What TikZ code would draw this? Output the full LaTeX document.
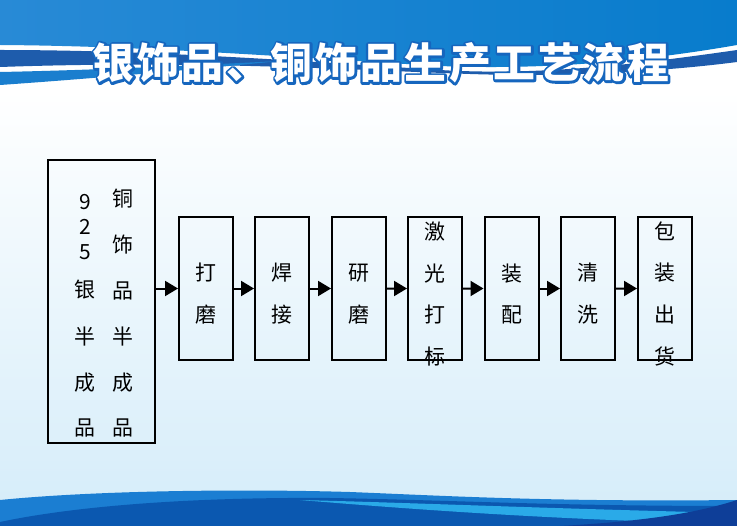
\documentclass[tikz,border=0pt]{standalone}
\usepackage{fontspec}
\setmainfont{Noto Sans CJK SC}
\usetikzlibrary{arrows.meta}

\definecolor{skyback}{RGB}{212,236,249}
\definecolor{bandleft}{RGB}{40,138,214}
\definecolor{bandmid}{RGB}{92,196,240}
\definecolor{bandright}{RGB}{8,124,204}
\definecolor{stripedark}{RGB}{30,92,172}
\definecolor{stripelow}{RGB}{26,126,206}
\definecolor{wavebase}{RGB}{27,126,210}
\definecolor{wavedark}{RGB}{11,88,176}
\definecolor{wavecyan}{RGB}{42,170,232}
\definecolor{wavenavy}{RGB}{14,62,152}
\definecolor{titleedge}{RGB}{22,102,190}

% stroked text for the title edge
\newcommand{\strokedtext}[1]{\special{pdf:literal direct 2 Tr 4.6 w 1 J 1 j 0.086 0.4 0.745 RG}#1\special{pdf:literal direct 0 Tr 1 w}}
% pushes the step labels a little down
\newcommand{\topgap}{\rule{0pt}{28.5bp}}

\tikzset{
  stepbox/.style={draw, line width=2bp, minimum width=54bp, minimum height=143bp,
    inner xsep=0pt, inner ysep=-20bp, align=center, font=\fontsize{21}{42}\selectfont},
  flow/.style={-{Triangle[length=13bp,width=15bp]}, line width=2bp},
  heading/.style={inner sep=0pt, font=\bfseries\fontsize{42}{42}\selectfont\addfontfeature{LetterSpace=6.5}},
}

\begin{document}
\begin{tikzpicture}[x=1bp, y=-1bp]
	\useasboundingbox (0,0) rectangle (737,526);

	% background
	\fill[white] (0,0) rectangle (737,526);
	\shade[top color=white, bottom color=skyback] (0,90) rectangle (737,526);

	% top band
	\shade[left color=bandleft, middle color=bandmid, right color=bandright]
		(0,0) -- (737,0) -- (737,45) .. controls (640,62) and (540,70) .. (440,66)
		.. controls (300,58) and (150,46) .. (0,45) -- cycle;
	\fill[stripedark]
		(0,50) .. controls (150,50) and (300,61) .. (440,70) .. controls (540,76) and (640,64) .. (737,50)
		-- (737,62) .. controls (660,72) and (560,77) .. (470,74)
		.. controls (350,70) and (200,60) .. (0,67) -- cycle;
	\fill[stripelow]
		(0,72) .. controls (100,70) and (200,65) .. (280,61)
		.. controls (200,69) and (100,78) .. (0,85) -- cycle;

	% bottom wave
	\fill[wavebase]
		(0,500) .. controls (100,490) and (250,489) .. (350,492)
		.. controls (450,496) and (550,502) .. (737,500) -- (737,526) -- (0,526) -- cycle;
	\fill[wavedark]
		(0,522) .. controls (80,505) and (200,497) .. (330,498)
		.. controls (450,500) and (550,506) .. (737,506) -- (737,526) -- (0,526) -- cycle;
	\fill[wavecyan]
		(300,500) .. controls (420,503) and (560,509) .. (737,513) -- (737,524)
		.. controls (560,520) and (420,510) .. (300,500) -- cycle;
	\fill[wavenavy]
		(560,526) .. controls (650,521) and (700,512) .. (737,500) -- (737,526) -- cycle;

	% title
	\node[heading, text=titleedge] (titleedge) at (381,63) {\strokedtext{银饰品、铜饰品生产工艺流程}};
	\node[heading, text=white] (title) at (381,63) {银饰品、铜饰品生产工艺流程};

	% semi-finished goods
	\node[draw, line width=2bp, minimum width=107bp, minimum height=283bp] (semi) at (101.5,301.5) {};
	\node[anchor=north, align=center, inner sep=0pt, font=\fontsize{21}{25}\selectfont] (silver) at (85,194)
		{9\\2\\5\\[13bp]银\\[22bp]半\\[22bp]成\\[20bp]品};
	\node[anchor=north, align=center, inner sep=0pt, font=\fontsize{21}{46}\selectfont] (copper) at (123,189)
		{铜\\饰\\品\\半\\成\\品};

	% process steps
	\node[stepbox] (polish) at (206,288.5) {\topgap 打\\磨};
	\node[stepbox] (weld) at (282,288.5) {\topgap 焊\\接};
	\node[stepbox] (grind) at (359,288.5) {\topgap 研\\磨};
	\node[stepbox] (laser) at (435,288.5) {\topgap 激\\光\\打\\标};
	\node[stepbox] (assemble) at (511.5,288.5) {\topgap 装\\配};
	\node[stepbox] (clean) at (588,288.5) {\topgap 清\\洗};
	\node[stepbox] (pack) at (665,288.5) {\topgap 包\\装\\出\\货};

	\draw[flow] (semi.east |- polish.west) -- (polish.west);
	\draw[flow] (polish) -- (weld);
	\draw[flow] (weld) -- (grind);
	\draw[flow] (grind) -- (laser);
	\draw[flow] (laser) -- (assemble);
	\draw[flow] (assemble) -- (clean);
	\draw[flow] (clean) -- (pack);
\end{tikzpicture}
\end{document}
